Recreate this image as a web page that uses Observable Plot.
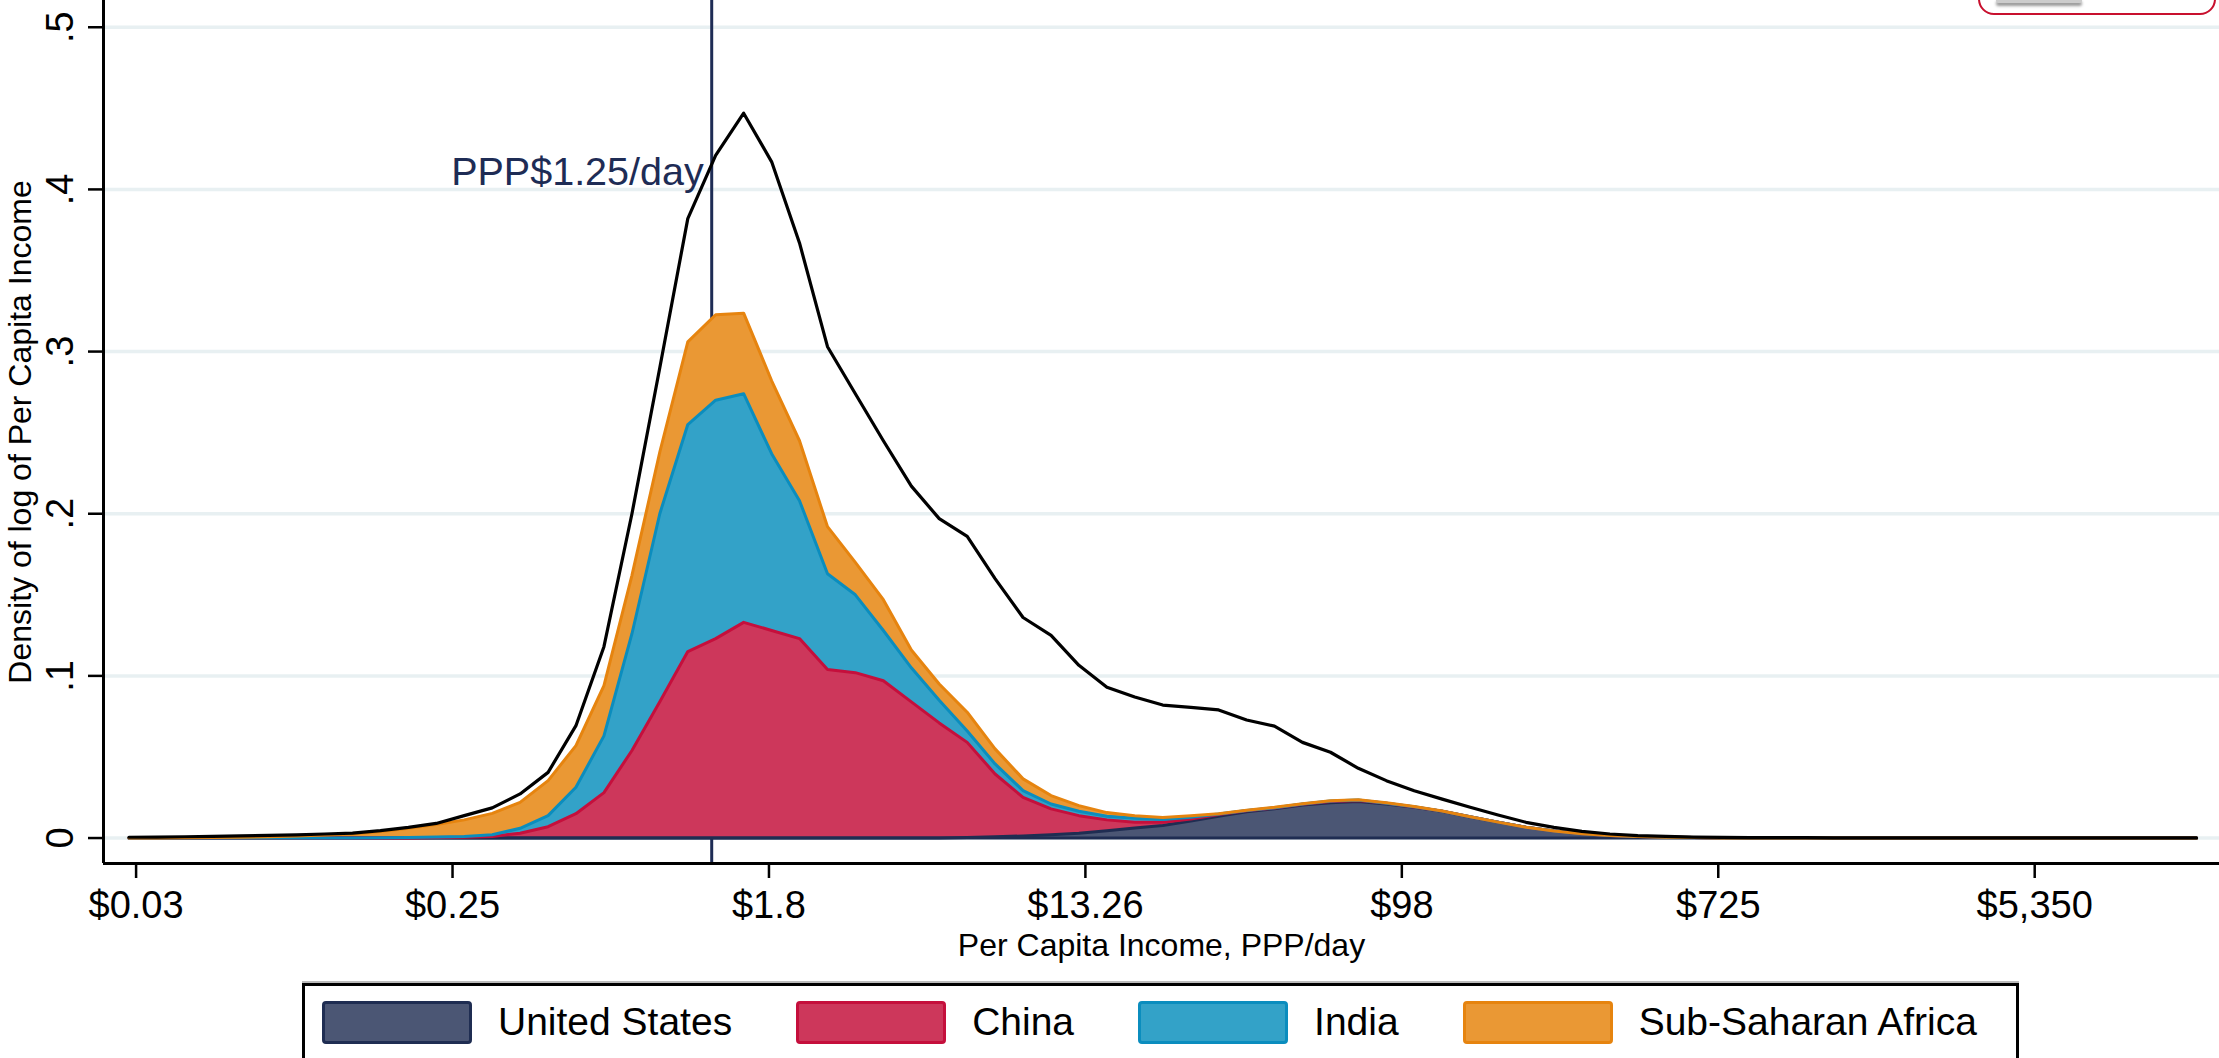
<!DOCTYPE html>
<html>
<head>
<meta charset="utf-8">
<script src="https://cdn.jsdelivr.net/npm/d3@7"></script>
<script src="https://cdn.jsdelivr.net/npm/@observablehq/plot@0.6"></script>
<style>
  html, body { margin: 0; padding: 0; background: #fff; }
  #wrap { position: relative; width: 2219px; height: 1058px; overflow: hidden; background: #fff;
          font-family: "Liberation Sans", Arial, Helvetica, sans-serif; }
  #chart { position: absolute; left: 0; top: 0; }
  #legend { position: absolute; left: 302px; top: 983px; width: 1717px; height: 140px;
            border: 3px solid #000; box-sizing: border-box; display: flex; align-items: flex-start;
            padding: 14px 0 0 17px; box-shadow: 0 -2px 0 #bbb; }
  .item { display: flex; align-items: center; margin-right: 64px; }
  .sw { width: 150px; height: 43px; box-sizing: border-box; border: 3px solid; border-radius: 4px; margin-right: 26px; }
  .lab { font-size: 39px; color: #000; white-space: nowrap; }
  #logo { position: absolute; left: 1978px; top: -40px; width: 238px; height: 55px;
          border: 2px solid #c8102e; border-radius: 16px; box-sizing: border-box; }
  #logo .bar { position: absolute; left: 16px; top: 36px; width: 86px; height: 5px; background: #ccc;
               border-radius: 3px; box-shadow: 0 3px 3px #999; }
</style>
</head>
<body>
<div id="wrap">
  <div id="chart"></div>
  <div id="logo"><div class="bar"></div></div>
  <div id="legend"></div>
</div>
<script>
// ---------- data (x = natural log of per-capita income, PPP$/day) ----------
const xs = [-3.460,-3.284,-3.107,-2.930,-2.754,-2.577,-2.401,-2.224,-2.047,-1.871,
  -1.694,-1.518,-1.341,-1.164,-0.988,-0.811,-0.635,-0.458,-0.281,-0.105,
  0.072,0.248,0.425,0.602,0.778,0.955,1.131,1.308,1.485,1.661,
  1.838,2.014,2.191,2.368,2.544,2.721,2.897,3.074,3.251,3.427,
  3.604,3.780,3.957,4.134,4.310,4.487,4.663,4.840,5.017,5.193,
  5.370,5.546,5.723,5.900,6.076,6.253,6.429,6.606,6.783,6.959,
  7.136,7.312,7.489,7.666,7.842,8.019,8.195,8.372,8.549,8.725,
  8.902,9.078,9.255,9.432,9.608];

const usDensity = [0,0,0,0,0,0,0,0,0,0,
  0,0,0,0,0,0,0,0,0,0,
  0,0,0,0,0,0,0,0,0,0,
  0.0003,0.0008,0.0013,0.002,0.003,0.0045,0.0062,0.0077,0.0105,0.0135,
  0.0162,0.018,0.0203,0.0218,0.0225,0.021,0.019,0.0165,0.013,0.0098,
  0.0066,0.0043,0.0027,0.0016,0.0009,0.0005,0.0003,0.0001,0,0,
  0,0,0,0,0,0,0,0,0,0,
  0,0,0,0,0];

const chinaDensity = [0,0,0,0,0,0,0,0,0,0,
  0.0001,0.0003,0.0005,0.001,0.003,0.007,0.015,0.028,0.054,0.084,
  0.115,0.123,0.133,0.128,0.123,0.104,0.102,0.097,0.084,0.071,
  0.0587,0.0387,0.0238,0.016,0.0108,0.0067,0.0035,0.002,0.0013,0.001,
  0.0006,0.0005,0.0005,0.0008,0.0007,0.0004,0.0002,0.0001,0.0001,0,
  0,0,0,0,0,0,0,0,0,0,
  0,0,0,0,0,0,0,0,0,0,
  0,0,0,0,0];

const indiaDensity = [0,0,0,0,0,0,0,0,0,0.0002,
  0.0003,0.0003,0.0005,0.001,0.003,0.0068,0.0163,0.035,0.072,0.116,
  0.14,0.147,0.141,0.109,0.085,0.059,0.048,0.031,0.021,0.014,
  0.007,0.0062,0.0041,0.003,0.0027,0.0022,0.0025,0.0017,0.001,0.0003,
  0.0002,0.0002,0.0002,0.0002,0.0002,0.0001,0.0001,0,0,0,
  0,0,0,0,0,0,0,0,0,0,
  0,0,0,0,0,0,0,0,0,0,
  0,0,0,0,0];

const ssaDensity = [0,0.0001,0.0002,0.0003,0.0005,0.0008,0.0012,0.0018,0.0025,0.0038,
  0.0056,0.0077,0.0102,0.0132,0.016,0.0216,0.0257,0.031,0.036,0.038,
  0.051,0.0527,0.0497,0.045,0.037,0.029,0.02,0.019,0.011,0.010,
  0.0116,0.0093,0.0073,0.0052,0.0035,0.0023,0.0016,0.0012,0.001,0.0002,
  0.0002,0.0003,0.0002,0.0002,0.0002,0.0002,0.0001,0.0001,0,0,
  0,0,0,0,0,0,0,0,0,0,
  0,0,0,0,0,0,0,0,0,0,
  0,0,0,0,0];

const worldDensity = [0.0005,0.0006,0.0008,0.001,0.0013,0.0017,0.002,0.0025,0.003,0.0046,
  0.0066,0.009,0.0138,0.0186,0.0272,0.0405,0.0693,0.118,0.2,0.29,
  0.382,0.421,0.447,0.417,0.367,0.303,0.274,0.245,0.217,0.197,
  0.186,0.16,0.136,0.125,0.1065,0.093,0.087,0.082,0.0806,0.079,
  0.0728,0.069,0.059,0.0529,0.043,0.0354,0.0292,0.024,0.019,0.0142,
  0.0097,0.0066,0.0041,0.0025,0.0015,0.001,0.0006,0.0004,0.0003,0.0002,
  0.0002,0.0001,0.0001,0.0001,0.0001,0.0001,0.0001,0.0001,0.0001,0.0001,
  0.0001,0.0001,0.0001,0.0001,0.0001];

const seriesNames = ["United States", "China", "India", "Sub-Saharan Africa"];
const seriesValues = [usDensity, chinaDensity, indiaDensity, ssaDensity];
const seriesFill = ["#4b5674", "#cd375b", "#33a2c8", "#ea9834"];
const seriesStroke = ["#1f2d52", "#c50f3c", "#0b8dbe", "#e6840f"];

const xTickPos = [-3.415, -1.415, 0.585, 2.585, 4.585, 6.585, 8.585];
const xTickLabels = ["$0.03", "$0.25", "$1.8", "$13.26", "$98", "$725", "$5,350"];
const yTicks = [0, 0.1, 0.2, 0.3, 0.4, 0.5];
const yTickLabels = ["0", ".1", ".2", ".3", ".4", ".5"];
const xDomain = [-3.621, 9.753];
const yDomain = [-0.0157, 0.5165];

const povertyLine = Math.log(1.25);
const povertyLabel = "PPP$1.25/day";
const povertyLabelY = 0.403;
const xTitle = "Per Capita Income, PPP/day";
const yTitle = "Density of log of Per Capita Income";

// ---------- stacked table built from the series ----------
const stacked = seriesNames.map((name, si) =>
  xs.map((x, i) => {
    let lo = 0;
    for (let j = 0; j < si; j++) lo += seriesValues[j][i];
    return {x, lo, hi: lo + seriesValues[si][i], s: name};
  })
);
const world = xs.map((x, i) => ({x, v: worldDensity[i]}));

const navy = "#1e2c55";
const marks = [
  Plot.gridY(yTicks, {stroke: "#e8f0f2", strokeOpacity: 1, strokeWidth: 3.5}),
  Plot.ruleX([povertyLine], {stroke: navy, strokeWidth: 3}),
  ...stacked.map((rows, si) => Plot.areaY(rows, {x: "x", y1: "lo", y2: "hi", fill: seriesFill[si], fillOpacity: 1})),
  Plot.ruleY([0], {x1: xs[0], x2: xs[xs.length - 1], stroke: seriesStroke[0], strokeWidth: 3}),
  ...stacked.map((rows, si) => Plot.lineY(rows, {x: "x", y: "hi", stroke: seriesStroke[si], strokeWidth: 3, strokeLinejoin: "round"})),
  Plot.lineY(world, {x: "x", y: "v", stroke: "#000", strokeWidth: 3.2, strokeLinejoin: "round", strokeLinecap: "round"}),
  Plot.ruleX([xDomain[0]], {stroke: "#000", strokeWidth: 3}),
  Plot.ruleY([yDomain[0]], {stroke: "#000", strokeWidth: 3}),
  Plot.axisX({ticks: xTickPos, tickFormat: d => xTickLabels[xTickPos.indexOf(d)], tickSize: 15, tickPadding: 13,
              strokeWidth: 2.5, fontSize: 38, label: null}),
  Plot.axisY({ticks: yTicks, tickFormat: () => "", tickSize: 15, strokeWidth: 2.5, label: null}),
  Plot.text(yTicks, {y: d => d, text: d => yTickLabels[yTicks.indexOf(d)], frameAnchor: "left", rotate: -90,
                     textAnchor: "middle", lineAnchor: "bottom", dx: -31, fontSize: 38, fill: "#000"}),
  Plot.text([yTitle], {text: d => d, frameAnchor: "left", rotate: -90, textAnchor: "middle", lineAnchor: "bottom",
                       dx: -73, fontSize: 32, fill: "#000"}),
  Plot.text([xTitle], {text: d => d, frameAnchor: "bottom", lineAnchor: "bottom", dy: 92, fontSize: 32, fill: "#000"}),
  Plot.text([povertyLabel], {text: d => d, x: povertyLine, y: povertyLabelY, textAnchor: "end", lineAnchor: "bottom",
                             dx: -8, fontSize: 39.5, fill: navy})
];

const chart = Plot.plot({
  width: 2219,
  height: 980,
  marginLeft: 103,
  marginRight: 0,
  marginTop: 0,
  marginBottom: 117,
  x: {domain: xDomain},
  y: {domain: yDomain},
  style: {background: "transparent", fontFamily: "'Liberation Sans', Arial, Helvetica, sans-serif", fontSize: "38px", color: "#000", overflow: "visible"},
  marks
});
document.getElementById("chart").appendChild(chart);

// ---------- legend ----------
const legend = document.getElementById("legend");
seriesNames.forEach((name, i) => {
  const item = document.createElement("div");
  item.className = "item";
  const sw = document.createElement("div");
  sw.className = "sw";
  sw.style.background = seriesFill[i];
  sw.style.borderColor = seriesStroke[i];
  const lab = document.createElement("div");
  lab.className = "lab";
  lab.textContent = name;
  item.appendChild(sw);
  item.appendChild(lab);
  legend.appendChild(item);
});
</script>
</body>
</html>
